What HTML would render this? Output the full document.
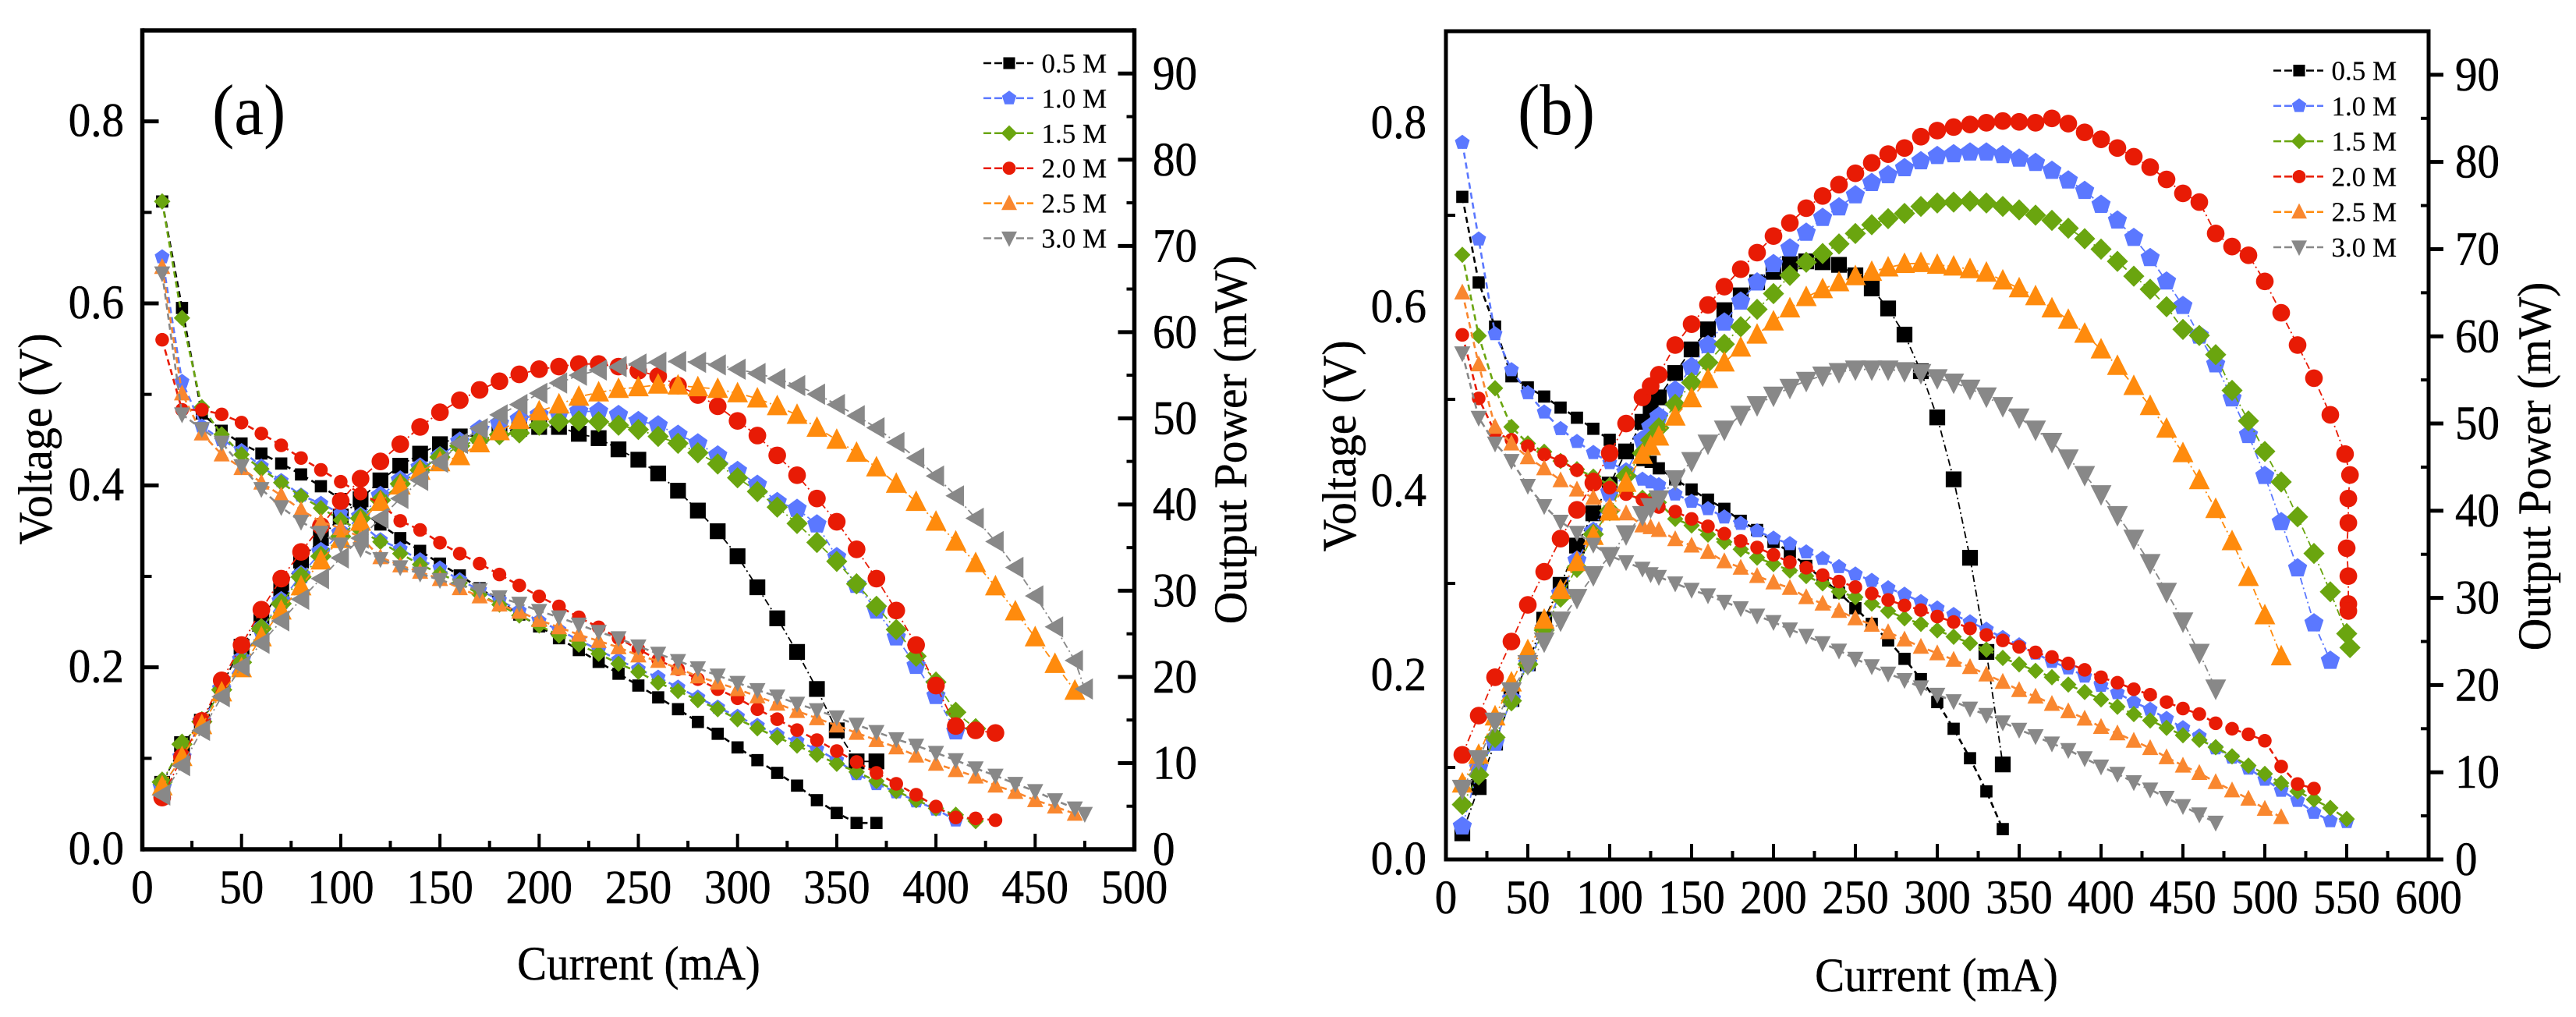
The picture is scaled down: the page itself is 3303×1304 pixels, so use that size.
<!DOCTYPE html>
<html lang="en">
<head>
<meta charset="utf-8">
<title>Voltage and output power versus current</title>
<style>
html,body{margin:0;padding:0;background:#fff;}
svg{display:block;font-family:"Liberation Serif",serif;fill:#000;}
</style>
</head>
<body>
<svg id="chart" xmlns="http://www.w3.org/2000/svg" width="3303" height="1304" viewBox="0 0 3303 1304">
  <rect x="0" y="0" width="3303" height="1304" fill="#fff"/>
  <g id="panel-a"></g>
  <g id="panel-b"></g>
  <text transform="translate(272 172) scale(1 1.08)" font-size="85">(a)</text>
  <text transform="translate(1946 172) scale(1 1.08)" font-size="85">(b)</text>
  <text transform="translate(819 1256) scale(1 1.07)" font-size="57" text-anchor="middle" stroke="#000" stroke-width="0.4">Current (mA)</text>
  <text transform="translate(2483 1271) scale(1 1.07)" font-size="57" text-anchor="middle" stroke="#000" stroke-width="0.4">Current (mA)</text>
  <text transform="translate(66 563) rotate(-90) scale(1 1.05)" font-size="58" text-anchor="middle" stroke="#000" stroke-width="0.4">Voltage (V)</text>
  <text transform="translate(1738 572) rotate(-90) scale(1 1.05)" font-size="58" text-anchor="middle" stroke="#000" stroke-width="0.4">Voltage (V)</text>
  <text transform="translate(1598 564) rotate(-90) scale(1 1.05)" font-size="57.5" text-anchor="middle" stroke="#000" stroke-width="0.4">Output Power (mW)</text>
  <text transform="translate(3270 598) rotate(-90) scale(1 1.05)" font-size="57.5" text-anchor="middle" stroke="#000" stroke-width="0.4">Output Power (mW)</text>
</svg>
<script>
// ---------- shared categories ----------
const seriesNames = ["0.5 M","1.0 M","1.5 M","2.0 M","2.5 M","3.0 M"];
const xTicksA = [0,50,100,150,200,250,300,350,400,450,500];
const xTicksB = [0,50,100,150,200,250,300,350,400,450,500,550,600];
const voltageTicks = ["0.0","0.2","0.4","0.6","0.8"];
const powerTicks = [0,10,20,30,40,50,60,70,80,90];

// ---------- panel (a) ----------
const currentA = [10,20,30,40,50,60,70,80,90,100,110,120,130,140,150,160,170,180,190,200,210,220,230,240,250,260,270,280,290,300,310,320,330,340,350,360,370,380,390,400,410,420,430,440,450,460,470,475];

const voltageA05 = [.712,.595,.479,.460,.446,.435,.424,.412,.399,.385,.372,.357,.342,.328,.314,.301,.287,.273,.258,.245,.232,.219,.206,.193,.180,.167,.154,.140,.127,.112,.098,.084,.070,.054,.040,.029,.029];
const voltageA10 = [.651,.514,.465,.450,.438,.421,.405,.389,.380,.369,.358,.340,.330,.318,.309,.296,.285,.274,.262,.251,.241,.230,.219,.208,.198,.189,.178,.167,.156,.146,.136,.126,.119,.110,.098,.083,.072,.063,.053,.044,.032];
const voltageA15 = [.712,.584,.486,.456,.434,.418,.403,.388,.375,.362,.350,.338,.325,.313,.303,.293,.280,.269,.257,.246,.235,.225,.215,.204,.195,.183,.174,.164,.154,.143,.133,.123,.114,.104,.094,.085,.075,.064,.054,.045,.038,.031];
const voltageA20 = [.560,.483,.483,.478,.469,.457,.444,.430,.417,.404,.391,.380,.361,.351,.337,.325,.314,.302,.290,.278,.267,.255,.244,.232,.220,.208,.198,.187,.176,.166,.154,.143,.131,.120,.108,.096,.084,.072,.060,.047,.035,.034,.032];
const voltageA25 = [.640,.501,.457,.434,.419,.403,.389,.373,.360,.353,.343,.321,.312,.305,.297,.287,.278,.269,.261,.252,.244,.236,.229,.222,.213,.207,.199,.190,.183,.176,.168,.160,.152,.144,.136,.128,.120,.112,.103,.094,.087,.080,.070,.063,.054,.047,.039];
const voltageA30 = [.633,.478,.462,.447,.421,.396,.376,.360,.348,.335,.330,.319,.310,.303,.296,.290,.285,.277,.270,.262,.255,.247,.239,.232,.223,.215,.207,.199,.191,.183,.175,.168,.160,.153,.145,.137,.129,.121,.114,.106,.098,.089,.081,.072,.064,.054,.045,.039];

const powerA05 = [7.6,12.2,14.8,19,23.5,26.7,30.1,33.5,36.1,38.6,40.6,42.8,44.5,45.9,47,47.9,48,48.4,48.8,49,49,48.2,47.7,46.4,45.2,43.6,41.6,39.3,36.9,34,30.4,26.8,22.9,18.6,13.8,10.2,10.2];
const powerA10 = [7.2,10.7,14.8,18.6,22,25.6,28.8,31.8,34.5,36.7,38.6,41,42.8,44.3,45.6,47.3,48.7,49.4,49.9,50.4,50.5,50.8,50.8,50.4,49.7,49.2,48.1,47.1,45.7,43.9,42.3,40.3,39.5,37.7,33.9,30.7,27.7,24.6,21.3,17.8,13.7];
const powerA15 = [7.8,12.2,14.8,18.5,21.7,25.6,28.5,31.6,34,36.3,38.4,40.5,42.4,44,45.5,46.8,47.5,48.1,48.3,49.2,49.6,49.7,49.6,49.2,48.7,47.9,47.1,46,44.7,43.1,41.5,39.7,37.8,35.6,33.4,30.8,28.2,25.5,22.4,19.4,15.9,14];
const powerA20 = [6,10.7,14.9,19.6,23.7,27.8,31.4,34.5,37.5,40.4,43,45,47,49,50.7,52.1,53.3,54.3,55.1,55.7,56,56.3,56.3,56,55.5,54.9,53.8,52.7,51.4,49.7,48,45.7,43.4,40.7,38,34.8,31.4,27.7,23.7,19,14.3,13.8,13.5];
const powerA25 = [7.3,10.7,14.4,18.2,21,24.6,27.7,30.5,33.5,36,38,40.3,42.2,43.9,44.9,45.6,47.1,48.5,49.8,50.8,51.6,52.5,53,53.4,53.6,53.9,53.8,53.6,53.4,52.9,52.3,51.4,50.4,48.9,47.5,46,44.3,42.4,40.3,38,35.7,33.2,30.5,27.6,24.6,21.5,18.4];
const powerA30 = [6.3,9.7,13.8,17.7,21.2,23.9,26.5,29,31.4,33.8,36.1,38.4,40.7,42.8,44.9,47.1,48.8,50.4,51.6,52.9,54.1,55,55.6,56,56.3,56.5,56.6,56.5,56.2,55.7,55.2,54.6,53.8,52.8,51.6,50.3,48.9,47.2,45.4,43.3,41,38.4,35.7,32.7,29.4,25.8,21.9,18.6];

// ---------- panel (b) ----------
const currentB = [10,20,30,40,50,60,70,80,90,100,110,120,125,130,140,150,160,170,180,190,200,210,220,230,240,250,260,270,280,290,300,310,320,330,340,350,360,370,380,390,400,410,420,430,440,450,460,470,480,490,500,510,520,530,540,550,552];
const currentB20Power = [10,20,30,40,50,60,70,80,90,100,110,120,125,130,140,150,160,170,180,190,200,210,220,230,240,250,260,270,280,290,300,310,320,330,340,350,360,370,380,390,400,410,420,430,440,450,460,470,480,490,500,510,520,530,540,549,552,551,551,550,551,551,551];

const voltageB05 = [.720,.627,.579,.525,.513,.503,.491,.480,.468,.456,.444,.434,.432,.425,.413,.402,.391,.381,.368,.358,.345,.334,.319,.305,.290,.273,.256,.238,.218,.196,.171,.142,.110,.074,.033];
const voltageB10 = [.779,.674,.571,.532,.507,.486,.468,.454,.442,.431,.423,.413,.410,.407,.397,.389,.381,.372,.365,.357,.349,.343,.334,.327,.318,.310,.303,.295,.288,.280,.273,.266,.258,.250,.241,.233,.224,.215,.208,.199,.189,.181,.171,.163,.153,.143,.134,.121,.111,.099,.087,.075,.064,.051,.042,.041];
const voltageB15 = [.657,.569,.512,.470,.452,.443,.433,.424,.416,.407,.400,.393,.391,.388,.370,.363,.353,.345,.337,.328,.321,.314,.308,.300,.291,.285,.278,.270,.262,.256,.249,.242,.235,.228,.219,.212,.205,.198,.190,.182,.174,.166,.158,.151,.143,.135,.130,.122,.112,.102,.093,.083,.074,.065,.056,.044];
const voltageB20 = [.570,.501,.464,.456,.449,.440,.433,.423,.413,.404,.397,.391,.387,.383,.378,.370,.362,.354,.346,.339,.331,.323,.317,.309,.302,.296,.289,.282,.276,.271,.264,.258,.251,.244,.238,.231,.225,.220,.213,.206,.198,.192,.185,.179,.171,.164,.158,.148,.142,.136,.129,.101,.082,.077];
const voltageB25 = [.616,.538,.470,.452,.437,.425,.412,.402,.393,.384,.376,.363,.361,.358,.348,.341,.334,.324,.317,.308,.301,.295,.285,.278,.270,.262,.255,.247,.239,.231,.224,.217,.209,.201,.193,.184,.177,.169,.161,.153,.144,.137,.129,.121,.111,.102,.094,.084,.075,.066,.055,.046];
const voltageB30 = [.550,.480,.452,.433,.406,.384,.367,.355,.342,.330,.323,.316,.310,.307,.300,.293,.287,.280,.273,.265,.258,.250,.243,.235,.227,.218,.210,.202,.195,.187,.179,.172,.164,.157,.149,.141,.134,.126,.119,.110,.101,.093,.084,.076,.067,.058,.049,.040];

const powerB05 = [3,8.3,13.4,18.4,22.5,27.5,31.5,36,39.7,43,46.8,50.2,51.9,53,55.8,58.5,60.8,63,64.7,66.2,67.4,68.3,68.6,68.5,68.2,67,65.5,63.2,60.2,56,50.7,43.6,34.6,23.8,10.9];
const powerB10 = [3.8,10.5,13.4,18.4,22.5,26.5,30.5,34.3,37.6,42.1,44.4,48.1,49.6,50.8,53.8,56.5,59,61.6,64,66.2,68.3,70.1,71.9,73.6,74.8,76.2,77.6,78.5,79.3,80.1,80.7,80.9,81.1,81.1,80.8,80.4,79.9,79,77.9,76.7,75.1,73.3,71.3,69,66.3,63.5,60.1,56.8,52.9,48.7,44,38.7,33.4,27.1,22.8];
const powerB15 = [6.3,9.7,14,18.2,22.4,26.3,30.1,33.5,37.3,40,44,46.6,48.1,49.5,52.2,54.7,57,59.1,61.1,63.1,64.9,67,68.5,69.5,70.6,71.8,72.8,73.5,74.1,74.9,75.3,75.4,75.5,75.3,74.9,74.5,73.9,73.3,72.4,71.2,70,68.6,66.9,65.4,63.4,60.8,60.1,57.9,53.8,50.3,46.8,43.3,39.3,35.1,30.7,25.9,24.3];
const powerB20 = [12,16.5,20.9,25,29.2,33,36.8,40.1,43.2,46.6,50,53,54.3,55.6,59,61.4,63.6,65.7,67.7,69.6,71.5,73,74.7,76.1,77.4,78.7,79.9,80.9,81.6,82.9,83.6,84,84.3,84.5,84.7,84.6,84.5,85,84.4,83.4,82.6,81.6,80.6,79.4,78,76.4,75.4,71.8,70.3,69.3,66.3,62.7,59,55.2,51,46.5,44.1,41.4,38.6,35.7,32.5,29.3,28.5];
const powerB25 = [8.7,12,16.4,20.3,24,27.5,30.9,34.1,37.1,39.9,43.2,46.4,47.4,48.5,50.8,52.9,55.1,57,58.7,60.2,61.7,63.2,64.5,65.4,66.2,66.9,67.4,67.9,68.3,68.4,68.2,68,67.7,67.3,66.4,65.5,64.6,63.2,61.9,60.3,58.5,56.6,54.3,52,49.4,46.6,43.5,40.2,36.5,32.4,28,23.3];
const powerB30 = [8.1,11.5,15.8,19.3,22.4,25,27.4,30,32.6,34.8,37.3,39.5,40.4,41.3,43.6,45.7,47.7,49.3,51,52.1,53.2,54.1,54.9,55.5,55.9,56.2,56.2,56.2,56,55.8,55.2,54.7,54,53.1,52,50.7,49.3,47.9,46,44.1,41.9,39.5,36.8,34,30.7,27.3,23.7,19.6];

// ---------- helpers ----------
const NS = "http://www.w3.org/2000/svg";
const colors = ["#000000","#5b78ff","#6aa50f","#e81b05","#ff8b0d","#888888"];
const voltageColors = ["#000000","#5b78ff","#6aa50f","#e81b05","#f9872f","#888888"];
const shapes = ["square","pentagon","diamond","circle","up","down"];

function make(tag, attrs, parent){
  const el = document.createElementNS(NS, tag);
  for (const k in attrs) el.setAttribute(k, attrs[k]);
  parent.appendChild(el);
  return el;
}
function pts(list){ return list.map(p => p[0].toFixed(1)+","+p[1].toFixed(1)).join(" "); }

function marker(parent, shape, cx, cy, r, color){
  let el;
  if (shape === "circle") {
    el = make("circle", {cx:cx, cy:cy, r:r*1.03, fill:color}, parent);
  } else if (shape === "square") {
    const s = r*0.92;
    el = make("rect", {x:cx-s, y:cy-s, width:2*s, height:2*s, fill:color}, parent);
  } else {
    let list;
    if (shape === "diamond") list = [[cx,cy-r*1.24],[cx+r*1.24,cy],[cx,cy+r*1.24],[cx-r*1.24,cy]];
    if (shape === "up") list = [[cx,cy-r*1.35],[cx+r*1.22,cy+r*1.05],[cx-r*1.22,cy+r*1.05]];
    if (shape === "down") list = [[cx,cy+r*1.35],[cx+r*1.22,cy-r*1.05],[cx-r*1.22,cy-r*1.05]];
    if (shape === "left") list = [[cx-r*1.2,cy],[cx+r*0.95,cy-r*1.24],[cx+r*0.95,cy+r*1.24]];
    if (shape === "pentagon") {
      const R = r*1.18;
      list = [0,1,2,3,4].map(i => [cx+R*Math.sin(i*2*Math.PI/5), cy-R*Math.cos(i*2*Math.PI/5)]);
    }
    el = make("polygon", {points:pts(list), fill:color}, parent);
  }
  
  
}

function drawSeries(parent, name, xs, ys, xScale, yScale, shape, color, r, lineWidth, dash){
  const g = make("g", {}, parent);
  
  
  const coords = ys.map((v,i) => [xScale(xs[i]), yScale(v)]);
  const line = make("polyline", {points:pts(coords), fill:"none", stroke:color, "stroke-width":lineWidth, "stroke-dasharray":dash}, g);
  
  
  coords.forEach(c => marker(g, shape, c[0], c[1], r, color));
}

function segment(parent, name, x1, y1, x2, y2, w){
  const el = make("line", {x1:x1, y1:y1, x2:x2, y2:y2, stroke:"#000", "stroke-width":w}, parent);
  
  
}
function label(parent, name, x, y, str, anchor, size, yScale, sw){
  const el = make("text", {transform:"translate("+x+" "+y+") scale(1 "+yScale+")", "font-size":size, "text-anchor":anchor, stroke:"#000", "stroke-width":sw}, parent);
  el.textContent = str;
  
  
}

function drawPanel(cfg){
  const root = document.getElementById(cfg.id);
  const x = v => cfg.left + (v/cfg.xMax)*(cfg.right-cfg.left);
  const yV = v => cfg.bottom - (v/0.9)*(cfg.bottom-cfg.top);
  const yP = v => cfg.bottom - (v/95)*(cfg.bottom-cfg.top);

  // series: voltage then power for each concentration
  const marks = make("g", {}, root);
  
  
  seriesNames.forEach((n,i) => {
    const key = n.slice(0,3).replace(".","-");
    drawSeries(marks, "voltage-series-"+key, cfg.current, cfg.voltage[i], x, yV, shapes[i], voltageColors[i], 8.5, 2.6, "8 5");
    const pShape = (i===5 && cfg.powerLeft) ? "left" : shapes[i];
    const xsP = cfg.powerCurrent[i] || cfg.current;
    drawSeries(marks, "power-series-"+key, xsP, cfg.power[i], x, yP, pShape, colors[i], 11, 1.8, "9 4 2 4");
  });

  // axes frame
  const axes = make("g", {}, root);
  
  
  const w = cfg.axisWidth;
  segment(axes, "left-axis-line", cfg.left, cfg.top-w/2, cfg.left, cfg.bottom+w/2, w);
  segment(axes, "right-axis-line", cfg.right, cfg.top-w/2, cfg.right, cfg.bottom+w/2, w);
  segment(axes, "top-axis-line", cfg.left, cfg.top, cfg.right, cfg.top, w);
  segment(axes, "bottom-axis-line", cfg.left, cfg.bottom, cfg.right, cfg.bottom, w);

  // x ticks
  cfg.xTicks.forEach((t,i) => {
    segment(axes, "x-tick", x(t), cfg.bottom, x(t), cfg.bottom-20, 4);
    label(axes, "x-tick-label", x(t), cfg.xLabelY, String(t), "middle", 57, 1.07, 0.5);
    if (i < cfg.xTicks.length-1) {
      const mid = (t + cfg.xTicks[i+1])/2;
      segment(axes, "x-minor-tick", x(mid), cfg.bottom, x(mid), cfg.bottom-11, 4);
    }
  });

  // left ticks
  voltageTicks.forEach((t,i) => {
    const v = parseFloat(t);
    if (cfg.leftMajor > 0) segment(axes, "left-tick", cfg.left, yV(v), cfg.left+cfg.leftMajor, yV(v), 5);
    label(axes, "left-tick-label", cfg.leftLabelX, yV(v)+19, t, "end", 57, 1.07, 0.5);
    const mid = v + 0.1;
    segment(axes, "left-minor-tick", cfg.left, yV(mid), cfg.left+12, yV(mid), 4);
  });

  // right ticks
  powerTicks.forEach(t => {
    segment(axes, "right-tick", cfg.right, yP(t), cfg.right+cfg.rightMajor, yP(t), 5);
    label(axes, "right-tick-label", cfg.rightLabelX, yP(t)+20, String(t), "start", 57, 1.07, 0.5);
    segment(axes, "right-minor-tick", cfg.right, yP(t+5), cfg.right-10, yP(t+5), 4);
  });

  // legend
  const legend = make("g", {}, root);
  
  
  seriesNames.forEach((n,i) => {
    const entry = make("g", {}, legend);
    
    
    const ly = cfg.legendY + i*cfg.legendStep;
    const ll = make("line", {x1:cfg.legendX, y1:ly, x2:cfg.legendX+64, y2:ly, stroke:colors[i], "stroke-width":2.5, "stroke-dasharray":"10 4"}, entry);
    
    
    marker(entry, shapes[i], cfg.legendX+33, ly, 8.2, voltageColors[i]);
    label(entry, "legend-label", cfg.legendX+74.5, ly+12, n, "start", 35, 1, 0.2);
  });
}

drawPanel({
  id:"panel-a", left:182.5, right:1454.5, top:39, bottom:1089, xMax:500,
  current:currentA, xTicks:xTicksA, axisWidth:5.5, powerLeft:true,
  voltage:[voltageA05,voltageA10,voltageA15,voltageA20,voltageA25,voltageA30],
  power:[powerA05,powerA10,powerA15,powerA20,powerA25,powerA30],
  powerCurrent:[null,null,null,null,null,null],
  xLabelY:1158, leftLabelX:159, rightLabelX:1478, leftMajor:21, rightMajor:-21,
  legendX:1261, legendY:81, legendStep:44.9
});
drawPanel({
  id:"panel-b", left:1854, right:3114, top:40, bottom:1102, xMax:600,
  current:currentB, xTicks:xTicksB, axisWidth:5, powerLeft:false,
  voltage:[voltageB05,voltageB10,voltageB15,voltageB20,voltageB25,voltageB30],
  power:[powerB05,powerB10,powerB15,powerB20,powerB25,powerB30],
  powerCurrent:[null,null,null,currentB20Power,null,null],
  xLabelY:1171, leftLabelX:1829, rightLabelX:3148, leftMajor:0, rightMajor:19,
  legendX:2915, legendY:90.5, legendStep:45.3
});
</script>
</body>
</html>
